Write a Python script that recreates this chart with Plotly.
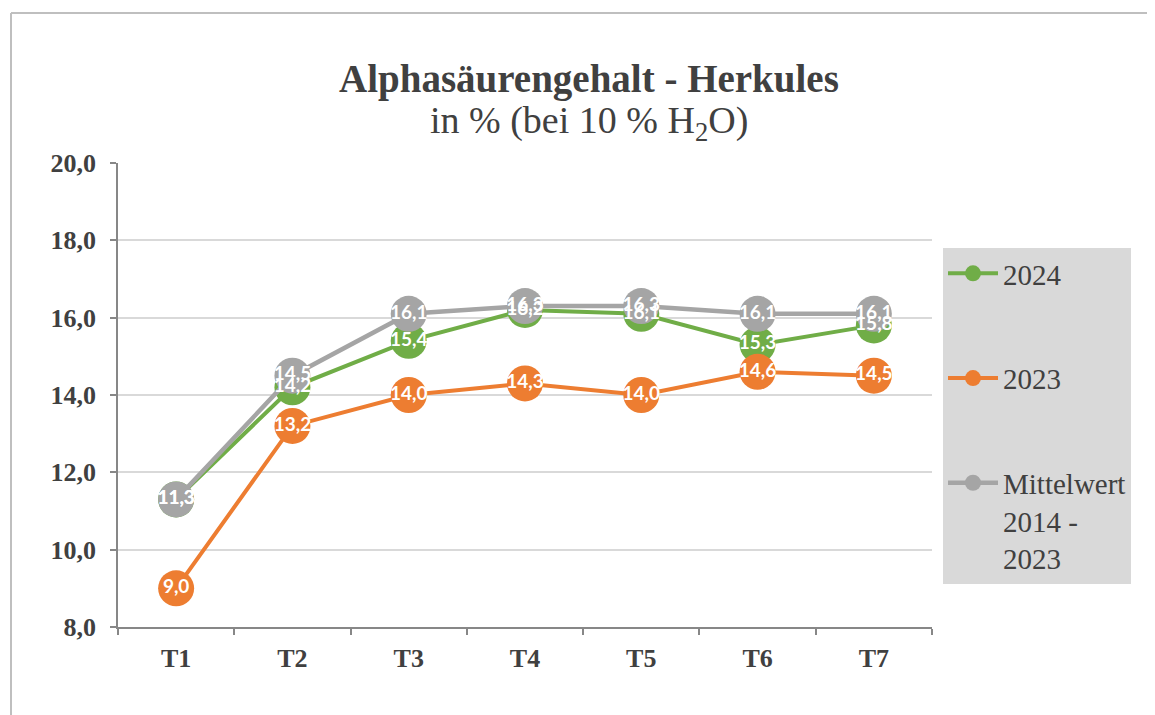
import plotly.graph_objects as go

categories = ["T1", "T2", "T3", "T4", "T5", "T6", "T7"]
series_names = ["2024", "2023", "Mittelwert<br>2014 -<br>2023"]
values_2024 = [11.3, 14.2, 15.4, 16.2, 16.1, 15.3, 15.8]
values_2023 = [9.0, 13.2, 14.0, 14.3, 14.0, 14.6, 14.5]
values_mittel = [11.3, 14.5, 16.1, 16.3, 16.3, 16.1, 16.1]
colors = ["#70ad47", "#ed7d31", "#a5a5a5"]
y_ticks = [8, 10, 12, 14, 16, 18, 20]

all_values = [values_2024, values_2023, values_mittel]

# page offset of 8px (body margin) is compensated here
W, H = 1147, 707
ML, MR, MT, MB = 110, 223, 155, 88
PW, PH = W - ML - MR, H - MT - MB


def px_x(p):  # reference screenshot px -> paper
    return (p - 118) / PW


def px_y(p):
    return (627 - p) / PH


fig = go.Figure()
for i, (name, vals, col) in enumerate(zip(series_names, all_values, colors)):
    fig.add_trace(go.Scatter(
        x=categories, y=vals, name=name, mode="lines+markers",
        line=dict(color=col, width=4 if i < 2 else 4.5),
        marker=dict(color=col, size=36, line=dict(width=0)),
        legendgroup=f"g{i}", hoverinfo="skip",
    ))
for i, vals in enumerate(all_values):
    fig.add_trace(go.Scatter(
        x=categories, y=vals, mode="text", showlegend=False,
        texttemplate="%{y:.1f}", textposition="middle center",
        textfont=dict(family="Lato", size=19, color="white", weight="bold"),
        hoverinfo="skip", legendgroup=f"t{i}",
    ))

title_font = dict(family="Liberation Serif", color="#404040")
fig.add_annotation(text="<b>Alphasäurengehalt - Herkules</b>", x=px_x(589), y=px_y(79),
                   xref="paper", yref="paper", showarrow=False,
                   xanchor="center", yanchor="middle",
                   font=dict(size=39, **title_font))
fig.add_annotation(text="in % (bei 10 % H<sub>2</sub>O)", x=px_x(589), y=px_y(123),
                   xref="paper", yref="paper", showarrow=False,
                   xanchor="center", yanchor="middle",
                   font=dict(size=38, **title_font))

# outer chart border
fig.add_shape(type="line", xref="paper", yref="paper", x0=px_x(11), x1=px_x(11),
              y0=px_y(730), y1=px_y(13), line=dict(color="#bfbfbf", width=2))
fig.add_shape(type="line", xref="paper", yref="paper", x0=px_x(11), x1=px_x(1170),
              y0=px_y(13), y1=px_y(13), line=dict(color="#bfbfbf", width=2))

tick_font = dict(family="Liberation Serif", size=26, color="#404040", weight="bold")

fig.update_layout(
    width=W, height=H,
    margin=dict(l=ML, r=MR, t=MT, b=MB),
    paper_bgcolor="white", plot_bgcolor="white",
    separators=",.",
    showlegend=True,
    legend=dict(
        x=px_x(943), y=px_y(248), xanchor="left", yanchor="top",
        bgcolor="#d9d9d9", tracegroupgap=64, valign="top",
        font=dict(family="Liberation Serif", size=29, color="#404040"),
        itemwidth=50, traceorder="grouped",
    ),
    xaxis=dict(
        type="category", range=[-0.5, 6.5], showgrid=False,
        showline=True, linecolor="#878787", linewidth=1.5,
        ticks="outside", tickson="boundaries", ticklen=6, tickcolor="#878787", tickwidth=1.5,
        tickfont=tick_font, ticklabelstandoff=7, fixedrange=True,
    ),
    yaxis=dict(
        range=[8, 20], tickvals=y_ticks, tickformat=".1f",
        showgrid=True, gridcolor="#d9d9d9", gridwidth=1.5,
        showline=True, linecolor="#878787", linewidth=1.5,
        ticks="outside", ticklen=6, tickcolor="#878787", tickwidth=1.5,
        tickfont=tick_font, ticklabelstandoff=9, zeroline=False, fixedrange=True,
    ),
)

fig.write_html("out.html")
